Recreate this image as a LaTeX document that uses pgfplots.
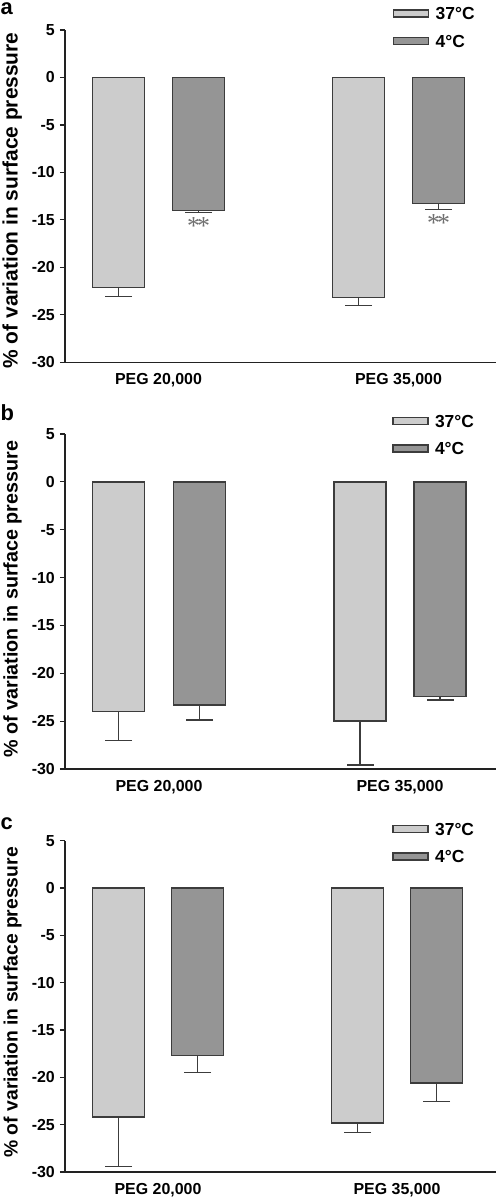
\documentclass[border=0pt]{standalone}
\usepackage{fontspec}
\setmainfont{Liberation Sans}
\newfontfamily\serifast{Liberation Serif}
\usepackage{pgfplots}
\pgfplotsset{compat=1.18}
\definecolor{lightbar}{HTML}{CCCCCC}
\definecolor{darkbar}{HTML}{959595}
\definecolor{edge}{HTML}{3C3C3C}
\definecolor{axiscol}{HTML}{222222}
\definecolor{astcol}{HTML}{707070}

\tikzset{ast/.style={font=\serifast\fontsize{26}{26}\selectfont, text=astcol, anchor=base, inner sep=0pt, yshift=-13.5bp}}

\pgfplotsset{
  panel/.style={
    scale only axis, width=431bp,
    xmin=0, xmax=431, ymin=-30, ymax=5,
    axis lines=left,
    axis line style={-, line width=1.2bp, color=axiscol},
    tick align=outside, major tick length=5bp,
    tick style={line width=1.2bp, color=axiscol},
    ytick={-30,-25,-20,-15,-10,-5,0,5},
    yticklabels={-30,-25,-20,-15,-10,-5,0,5},
    yticklabel style={font=\bfseries\fontsize{16}{19}\selectfont, inner sep=0pt, xshift=-5bp},
    xticklabels={{PEG 20,000},{PEG 35,000}},
    xticklabel style={font=\bfseries\fontsize{16}{19}\selectfont, inner sep=0pt, anchor=north, yshift=-6bp},
    major x tick style={draw=none},
    ylabel={\% of variation in surface pressure},
    ylabel style={anchor=base},
    legend cell align=left,
    legend image code/.code={\draw[#1] (0bp,-3.5bp) rectangle (35bp,3.5bp);},
    legend style={anchor=north west, draw=none, fill=none, inner sep=0pt, outer sep=0pt,
      font=\bfseries\fontsize{17.5}{20}\selectfont, row sep=15bp,
      nodes={inner sep=0pt, text height=12.5bp, text depth=0bp},
      /tikz/every odd column/.append style={column sep=6.5bp}},
  },
  barA/.style={ybar, bar width=52, bar shift=0pt, fill=lightbar, draw=edge, line width=1.5bp,
    error bars/.cd, y dir=minus, y explicit,
    error bar style={line width=1.5bp, color=edge},
    error mark options={rotate=90, line width=1.5bp, color=edge, mark size=13.5bp}},
  barB/.style={ybar, bar width=52, bar shift=0pt, fill=darkbar, draw=edge, line width=1.5bp,
    error bars/.cd, y dir=minus, y explicit,
    error bar style={line width=1.5bp, color=edge},
    error mark options={rotate=90, line width=1.5bp, color=edge, mark size=13.5bp}},
}

\begin{document}
\begin{tikzpicture}
\useasboundingbox (0bp,0bp) rectangle (496bp,-1198bp);

% ---------------- panel a
\node[anchor=base west, font=\bfseries\fontsize{22}{24}\selectfont, inner sep=0pt] at (0.5bp,-14.8bp) {a};
\begin{axis}[panel, at={(65bp,-362.3bp)}, anchor=south west, height=332.3bp,
  xtick={93.5,333.5},
  ylabel style={font=\bfseries\fontsize{21}{24}\selectfont, at={(axis description cs:-0.1102,0.487)}},
  legend style={at={(rel axis cs:0.7603,1.0683)}}]
\addplot[barA] table[x=x, y=y, y error=e] {
x y e
53.5 -22.1 0.95
293.5 -23.2 0.8
};
\addlegendentry{37°C}
\addplot[barB] table[x=x, y=y, y error=e] {
x y e
133.5 -14.0 0.2
373.5 -13.3 0.6
};
\addlegendentry{4°C}
\node[ast] at (axis cs:133.5,-15.1) {*\kern-3bp*};
\node[ast] at (axis cs:373.5,-14.8) {*\kern-3bp*};
\end{axis}

% ---------------- panel b
\node[anchor=base west, font=\bfseries\fontsize{22}{24}\selectfont, inner sep=0pt] at (0.5bp,-420bp) {b};
\begin{axis}[panel, at={(65bp,-769bp)}, anchor=south west, height=335bp,
  xtick={94,335},
  ylabel style={font=\bfseries\fontsize{19.8}{23}\selectfont, at={(axis description cs:-0.1102,0.507)}},
  legend style={at={(rel axis cs:0.7587,1.0576)}}]
\addplot[barA] table[x=x, y=y, y error=e] {
x y e
53.5 -24.0 3.0
295 -25.0 4.6
};
\addlegendentry{37°C}
\addplot[barB] table[x=x, y=y, y error=e] {
x y e
134.5 -23.3 1.6
375 -22.4 0.38
};
\addlegendentry{4°C}
\end{axis}

% ---------------- panel c
\node[anchor=base west, font=\bfseries\fontsize{22}{24}\selectfont, inner sep=0pt] at (0.5bp,-829.3bp) {c};
\begin{axis}[panel, at={(65bp,-1172bp)}, anchor=south west, height=331.3bp,
  xtick={93,332},
  ylabel style={font=\bfseries\fontsize{19.4}{23}\selectfont, at={(axis description cs:-0.1102,0.512)}},
  legend style={at={(rel axis cs:0.759,1.0543)}}]
\addplot[barA] table[x=x, y=y, y error=e] {
x y e
53.5 -24.2 5.2
292.5 -24.8 1.05
};
\addlegendentry{37°C}
\addplot[barB] table[x=x, y=y, y error=e] {
x y e
132.5 -17.7 1.8
371.5 -20.6 1.95
};
\addlegendentry{4°C}
\end{axis}
\end{tikzpicture}
\end{document}
